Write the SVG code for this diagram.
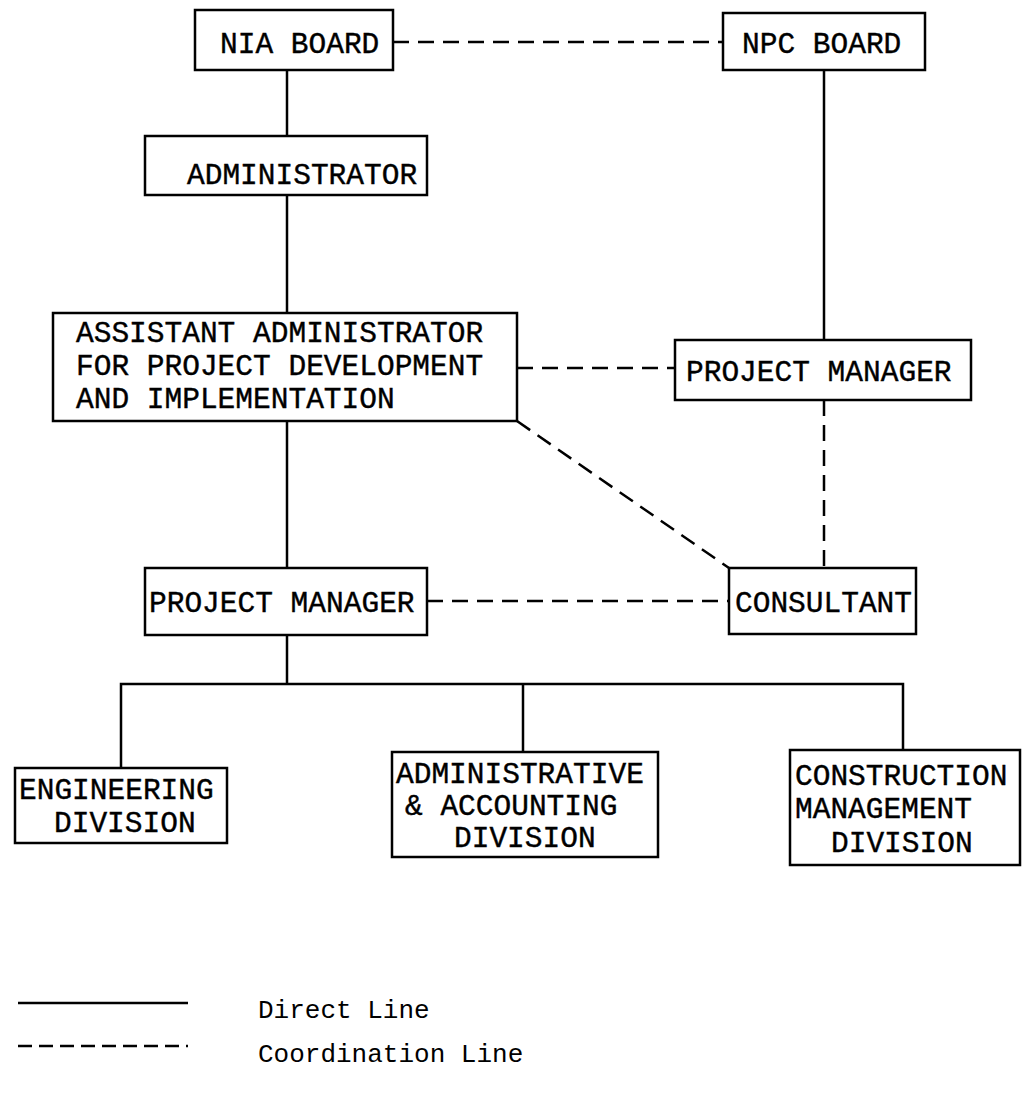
<svg xmlns="http://www.w3.org/2000/svg" width="1027" height="1094" viewBox="0 0 1027 1094">
<style>
.box{fill:#fff;stroke:#000;stroke-width:2.5}
.t{font-family:"Courier New","Liberation Mono",monospace;font-size:29.5px;fill:#000;stroke:#000;stroke-width:0.4}
.lg{font-family:"Courier New","Liberation Mono",monospace;font-size:26px;fill:#000}
.solid{stroke:#000;stroke-width:2.5;fill:none}
.dash{stroke:#000;stroke-width:2.5;fill:none;stroke-dasharray:16 9}
</style>
<rect width="1027" height="1094" fill="#fff"/>
<g id="connectors">
<line class="dash" x1="393" y1="42" x2="723" y2="42"/>
<line class="solid" x1="287" y1="70" x2="287" y2="136"/>
<line class="solid" x1="287" y1="195" x2="287" y2="313"/>
<line class="solid" x1="824" y1="70" x2="824" y2="340"/>
<line class="dash" x1="517" y1="368" x2="675" y2="368"/>
<line class="dash" x1="824" y1="400" x2="824" y2="568"/>
<line class="dash" x1="517" y1="421" x2="729" y2="568"/>
<line class="solid" x1="287" y1="421" x2="287" y2="568"/>
<line class="dash" x1="427" y1="601" x2="729" y2="601"/>
<line class="solid" x1="287" y1="635" x2="287" y2="684"/>
<polyline class="solid" points="121,768 121,684 903,684 903,750"/>
<line class="solid" x1="523" y1="684" x2="523" y2="752"/>
</g>
<g id="nia-board"><rect class="box" x="195" y="10" width="198" height="60"/><text class="t" x="220" y="53">NIA BOARD</text></g>
<g id="npc-board"><rect class="box" x="723" y="13" width="202" height="57"/><text class="t" x="742" y="53">NPC BOARD</text></g>
<g id="administrator"><rect class="box" x="145" y="136" width="282" height="59"/><text class="t" x="187" y="184">ADMINISTRATOR</text></g>
<g id="assistant-administrator"><rect class="box" x="53" y="313" width="464" height="108"/>
<text class="t" x="76" y="342">ASSISTANT ADMINISTRATOR</text>
<text class="t" x="76" y="375">FOR PROJECT DEVELOPMENT</text>
<text class="t" x="76" y="408">AND IMPLEMENTATION</text></g>
<g id="npc-project-manager"><rect class="box" x="675" y="340" width="296" height="60"/><text class="t" x="686" y="381">PROJECT MANAGER</text></g>
<g id="project-manager"><rect class="box" x="145" y="568" width="282" height="67"/><text class="t" x="149" y="612">PROJECT MANAGER</text></g>
<g id="consultant"><rect class="box" x="729" y="568" width="187" height="66"/><text class="t" x="735" y="612">CONSULTANT</text></g>
<g id="engineering-division"><rect class="box" x="15" y="768" width="212" height="75"/>
<text class="t" x="19" y="799">ENGINEERING</text><text class="t" x="54" y="832">DIVISION</text></g>
<g id="admin-accounting-division"><rect class="box" x="392" y="752" width="266" height="105"/>
<text class="t" x="396" y="783">ADMINISTRATIVE</text><text class="t" x="405" y="815">&amp; ACCOUNTING</text><text class="t" x="454" y="847">DIVISION</text></g>
<g id="construction-management-division"><rect class="box" x="790" y="750" width="230" height="115"/>
<text class="t" x="795" y="785">CONSTRUCTION</text><text class="t" x="795" y="818">MANAGEMENT</text><text class="t" x="831" y="852">DIVISION</text></g>
<g id="legend">
<line class="solid" x1="18" y1="1003" x2="188" y2="1003"/>
<line class="dash" x1="18" y1="1046" x2="188" y2="1046" style="stroke-dasharray:14 7"/>
<text class="lg" x="258" y="1018">Direct Line</text>
<text class="lg" x="258" y="1062">Coordination Line</text>
</g>
</svg>
